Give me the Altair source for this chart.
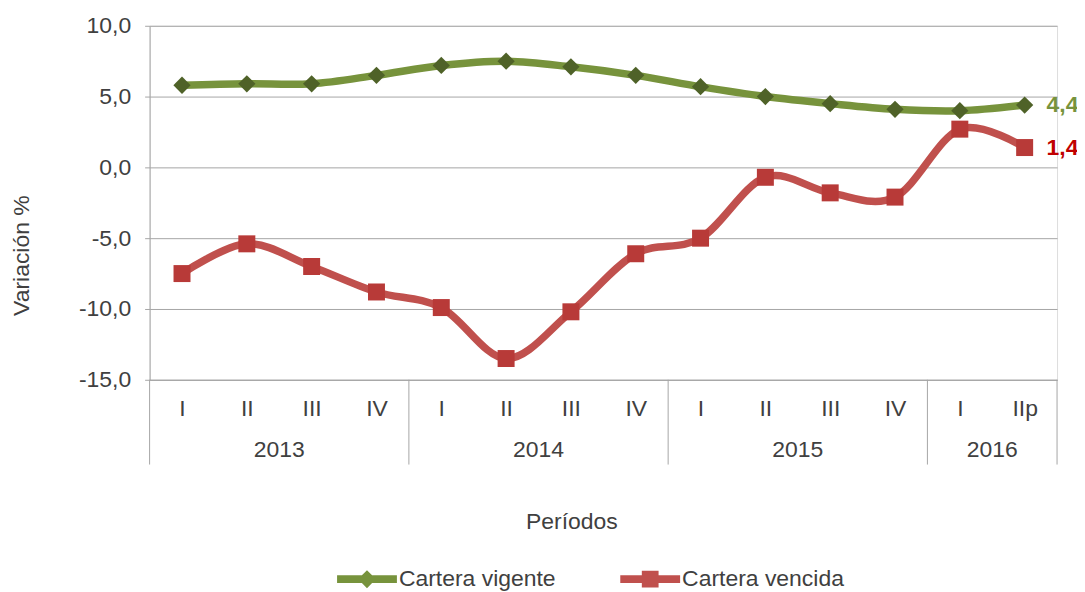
import altair as alt
import pandas as pd

quarters = ["I", "II", "III", "IV", "I", "II", "III", "IV", "I", "II", "III", "IV", "I", "IIp"]
vigente = [5.8, 5.9, 5.9, 6.5, 7.2, 7.5, 7.1, 6.5, 5.7, 5.0, 4.5, 4.1, 4.0, 4.4]
vencida = [-7.5, -5.4, -7.0, -8.8, -9.9, -13.5, -10.2, -6.1, -5.0, -0.7, -1.8, -2.1, 2.7, 1.4]
year_names = ["2013", "2014", "2015", "2016"]
year_starts = [0, 4, 8, 12]
year_ends = [4, 8, 12, 14]
series_names = ["Cartera vigente", "Cartera vencida"]
y_ticks = [-15, -10, -5, 0, 5, 10]

GREEN = "#77933C"
GREEN_DARK = "#4F6228"
RED = "#C0504D"
RED_DARK = "#B83A38"
RED_LABEL = "#C00000"
GRID = "#A6A6A6"
TEXT = "#404040"
FONT = "Liberation Sans"
FS = 23

n = len(quarters)
df_v = pd.DataFrame({"x": [i + 0.5 for i in range(n)], "value": vigente, "series": series_names[0]})
df_r = pd.DataFrame({"x": [i + 0.5 for i in range(n)], "value": vencida, "series": series_names[1]})
for d in (df_v, df_r):
    d["label"] = [f"{v:.1f}".replace(".", ",") for v in d["value"]]
years_df = pd.DataFrame({"year": year_names,
                         "x": [(s + e) / 2 for s, e in zip(year_starts, year_ends)]})
bounds_df = pd.DataFrame({"x": year_starts + [year_ends[-1]]})

q_array = "[" + ",".join(f"'{q}'" for q in quarters) + "]"

X = alt.X("x:Q",
          scale=alt.Scale(domain=[0, n], nice=False, zero=False),
          axis=alt.Axis(values=[i + 0.5 for i in range(n)],
                        labelExpr=f"{q_array}[floor(datum.value)]",
                        ticks=False, grid=False, domain=True, domainColor=GRID,
                        labelFontSize=FS, labelColor=TEXT, labelFont=FONT, labelPadding=18,
                        title="Períodos", titleFontSize=FS, titleFont=FONT, titleColor=TEXT,
                        titleFontWeight="normal", titleX=423, titleY=142,
                        titleBaseline="middle", titleAlign="center"))
Y = alt.Y("value:Q",
          scale=alt.Scale(domain=[-15, 10], nice=False),
          axis=alt.Axis(values=y_ticks,
                        labelExpr="(datum.value < 0 ? '-' : '') + replace(format(abs(datum.value), '.1f'), '.', ',')",
                        grid=True, gridColor=GRID, tickColor=GRID, tickSize=5,
                        domainColor=GRID, labelPadding=14,
                        labelFontSize=FS, labelColor=TEXT, labelFont=FONT,
                        title="Variación %", titleFontSize=FS, titleFont=FONT, titleColor=TEXT,
                        titleFontWeight="normal", titleX=-128, titleY=230,
                        titleAngle=-90, titleBaseline="middle", titleAlign="center"))

path_v = ("M-1,-0.13 L-0.17,-0.13 L0,-0.3 L0.17,-0.13 L1,-0.13 L1,0.13 "
          "L0.17,0.13 L0,0.3 L-0.17,0.13 L-1,0.13 Z")
path_r = ("M-1,-0.13 L-0.28,-0.13 L-0.28,-0.28 L0.28,-0.28 L0.28,-0.13 L1,-0.13 L1,0.13 "
          "L0.28,0.13 L0.28,0.28 L-0.28,0.28 L-0.28,0.13 L-1,0.13 Z")


def legend(path, color, lx):
    return alt.Legend(title=None, orient="none", legendX=lx, legendY=525,
                      symbolType=path, symbolSize=3600, symbolFillColor=color,
                      symbolStrokeColor=color, symbolStrokeWidth=0,
                      labelFontSize=FS, labelFont=FONT, labelColor=TEXT,
                      labelOffset=2, labelLimit=400, padding=0)


line_v = alt.Chart(df_v).mark_line(strokeWidth=7.5, interpolate="cardinal").encode(
    x=X, y=Y,
    color=alt.Color("series:N", scale=alt.Scale(domain=[series_names[0]], range=[GREEN]),
                    legend=legend(path_v, GREEN, 188)))
pts_v = alt.Chart(df_v).mark_point(shape="diamond", filled=True, size=300, color=GREEN_DARK,
                                   opacity=1).encode(x=X, y=Y)
lab_v = alt.Chart(df_v.tail(1)).mark_text(align="left", baseline="middle", dx=22, fontSize=FS,
                                          fontWeight="bold", font=FONT, color=GREEN).encode(
    x=X, y=Y, text="label:N")

line_r = alt.Chart(df_r).mark_line(strokeWidth=7.5, interpolate="cardinal").encode(
    x=X, y=Y,
    color=alt.Color("series:N", scale=alt.Scale(domain=[series_names[1]], range=[RED]),
                    legend=legend(path_r, RED, 472)))
pts_r = alt.Chart(df_r).mark_point(shape="square", filled=True, size=290, color=RED_DARK,
                                   opacity=1).encode(x=X, y=Y)
lab_r = alt.Chart(df_r.tail(1)).mark_text(align="left", baseline="middle", dx=22, fontSize=FS,
                                          fontWeight="bold", font=FONT, color=RED_LABEL).encode(
    x=X, y=Y, text="label:N")

seps = alt.Chart(bounds_df).mark_rule(color=GRID, strokeWidth=1).encode(
    x=X, y=alt.value(355), y2=alt.value(440))
yrs = alt.Chart(years_df).mark_text(fontSize=FS, font=FONT, color=TEXT, baseline="middle").encode(
    x=X, y=alt.value(425), text="year:N")

chart = alt.layer(seps, yrs, line_v, line_r, pts_v, pts_r, lab_v, lab_r).resolve_scale(
    color="independent"
).properties(
    width=910, height=355, autosize="none",
    padding={"left": 142, "top": 17, "right": 20, "bottom": 212},
).configure_view(stroke=None).configure(font=FONT)

chart.save("out.html", embed_options={"renderer": "svg", "actions": False})
